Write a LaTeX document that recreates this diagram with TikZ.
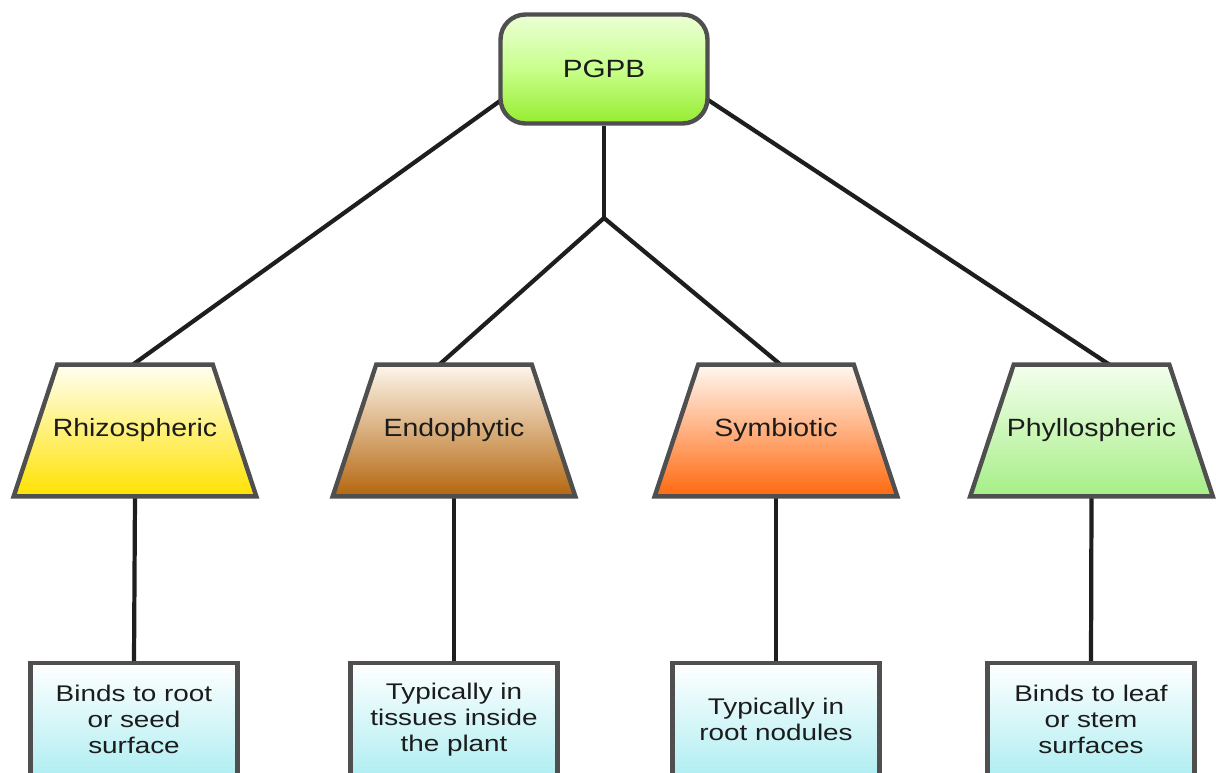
\documentclass[tikz,border=0pt]{standalone}
\usepackage{fontspec}
\setmainfont{Liberation Sans}
\newfontfamily\fTop[FakeStretch=1.19]{Liberation Sans}
\newfontfamily\fMid[FakeStretch=1.14]{Liberation Sans}
\newfontfamily\fBot[FakeStretch=1.23]{Liberation Sans}
\usetikzlibrary{calc,backgrounds}
\definecolor{bordc}{HTML}{4F4F4F}
\definecolor{linec}{HTML}{1E1E1E}
\definecolor{txtc}{HTML}{1C1C1C}
\tikzset{
  conn/.style={draw=linec, line width=2.4pt},
  rootbox/.style={draw=bordc, line width=2.5pt, rounded corners=0.5cm,
    minimum width=4.14cm, minimum height=2.18cm,
    top color={rgb,255:red,236;green,255;blue,214}, bottom color={rgb,255:red,150;green,236;blue,48},
    middle color={rgb,255:red,200;green,255;blue,140},
    text=txtc, font=\fTop\fontsize{14.2}{16}\selectfont},
  traptext/.style={minimum width=4.84cm, minimum height=2.62cm, inner sep=0pt,
    text=txtc, font=\fMid\fontsize{14.2}{16}\selectfont},
  trapshape/.style={draw=bordc, line width=2.5pt, line join=miter},
  leafbox/.style={draw=bordc, line width=2.5pt, minimum width=4.14cm, minimum height=2.26cm,
    top color=white, bottom color={rgb,255:red,176;green,238;blue,242},
    align=center, text=txtc, font=\fBot\fontsize{12.9}{14.6}\selectfont}
}
\newcommand\trapfill[2]{\path[trapshape,#2] (#1.south west) -- ($(#1.north west)+(43.5,0)$) -- ($(#1.north east)+(-43.5,0)$) -- (#1.south east) -- cycle;}
\begin{document}
\begin{tikzpicture}[x=0.02cm,y=-0.02cm]
\clip (0,0) rectangle (1216,772);
\useasboundingbox (0,0) rectangle (1216,772);
\node[rootbox] (pgpb) at (604,69) {PGPB};
\node[traptext] (rh) at (135,430.5) {Rhizospheric};
\node[traptext] (en) at (454,430.5) {Endophytic};
\node[traptext] (sy) at (776,430.5) {Symbiotic};
\node[traptext] (ph) at (1091.5,430.5) {Phyllospheric};
\node[leafbox] (b1) at (134,719.5) {Binds to root\\or seed\\surface};
\node[leafbox] (b2) at (454,719.5) {Typically in\\tissues inside\\the plant};
\node[leafbox] (b3) at (776,719.5) {Typically in\\root nodules};
\node[leafbox] (b4) at (1091,719.5) {Binds to leaf\\or stem\\surfaces};
\coordinate (j) at (604,218);
\begin{scope}[on background layer]
\draw[conn] ($(pgpb.south west)+(2,-25)$) -- ($(rh.north)+(-5,2)$);
\draw[conn] ($(pgpb.south east)+(-2,-26)$) -- ($(ph.north)+(21,2)$);
\draw[conn] (pgpb.south) -- (j);
\draw[conn] (j) -- ($(en.north)+(-17,2)$);
\draw[conn] (j) -- ($(sy.north)+(7,2)$);
\draw[conn] (rh.south) -- (b1.north);
\draw[conn] (en.south) -- (b2.north);
\draw[conn] (sy.south) -- (b3.north);
\draw[conn] (ph.south) -- (b4.north);
\trapfill{rh}{top color={rgb,255:red,255;green,255;blue,242}, middle color={rgb,255:red,255;green,255;blue,120}, bottom color={rgb,255:red,255;green,226;blue,0}}
\trapfill{en}{top color={rgb,255:red,254;green,246;blue,236}, middle color={rgb,255:red,220;green,162;blue,96}, bottom color={rgb,255:red,180;green,102;blue,14}}
\trapfill{sy}{top color={rgb,255:red,255;green,248;blue,242}, middle color={rgb,255:red,255;green,172;blue,102}, bottom color={rgb,255:red,255;green,104;blue,14}}
\trapfill{ph}{top color={rgb,255:red,244;green,255;blue,238}, middle color={rgb,255:red,206;green,248;blue,186}, bottom color={rgb,255:red,166;green,238;blue,134}}
\end{scope}
\end{tikzpicture}
\end{document}
